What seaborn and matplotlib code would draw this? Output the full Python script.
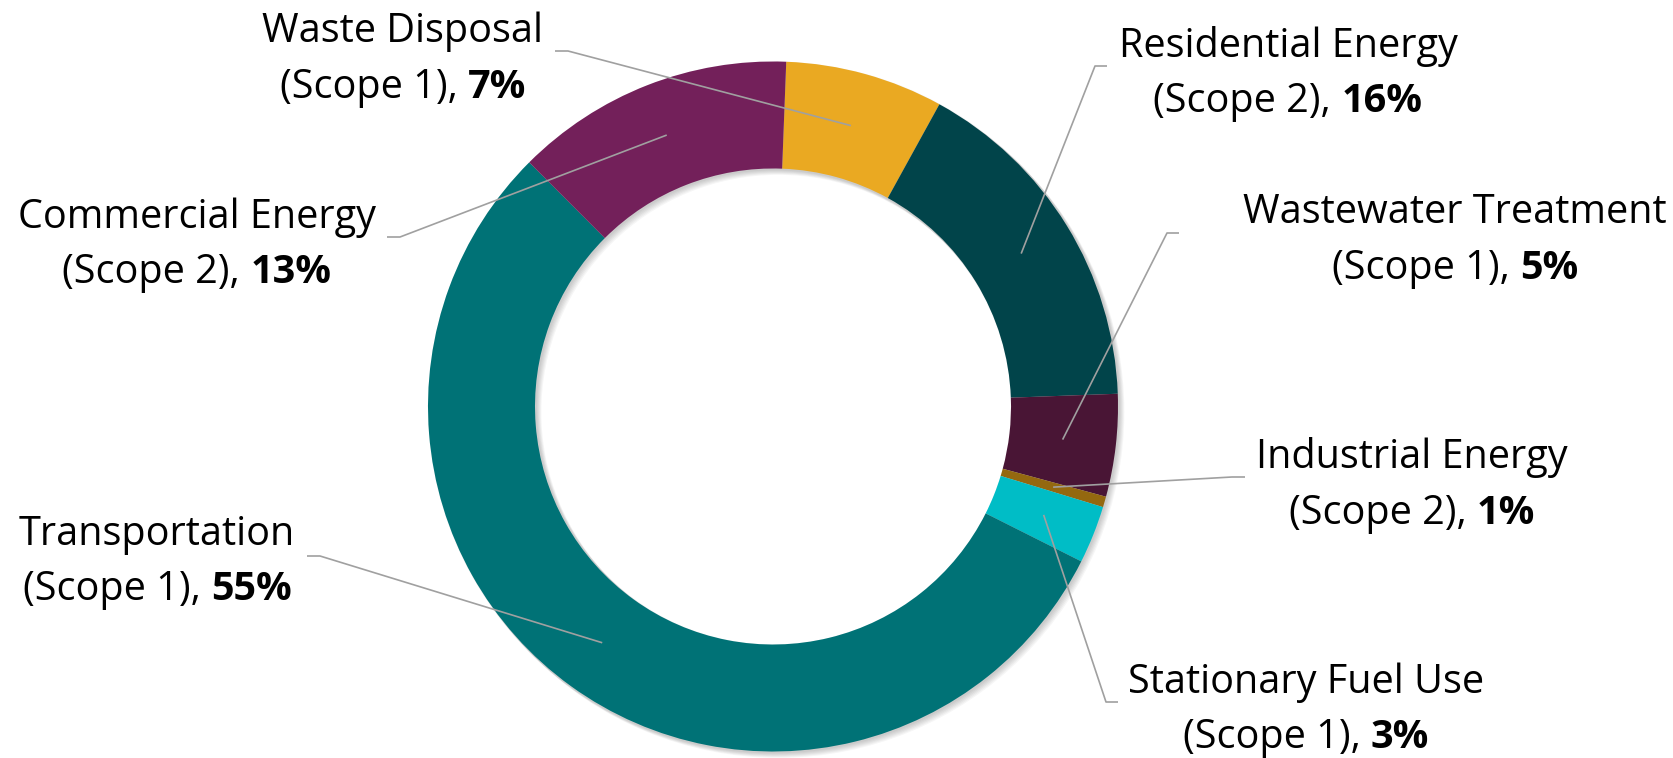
import matplotlib
matplotlib.use("Agg")
import matplotlib.pyplot as plt
import numpy as np
import seaborn as sns
from matplotlib.patches import Wedge

# emission sources, clockwise from the top
categories = ["Waste Disposal", "Residential Energy", "Wastewater Treatment",
              "Industrial Energy", "Stationary Fuel Use", "Transportation",
              "Commercial Energy"]
scopes = ["(Scope 1)", "(Scope 2)", "(Scope 1)", "(Scope 2)", "(Scope 1)",
          "(Scope 1)", "(Scope 2)"]
shares = [7.4, 16.4, 4.8, 0.5, 2.7, 55.1, 13.1]
pct_labels = ["7%", "16%", "5%", "1%", "3%", "55%", "13%"]
colors = ["#EAA922", "#01444A", "#491535", "#94680F", "#00BDC6", "#007276",
          "#73205A"]

W, H = 1673, 758
sns.set_theme(style="white")
plt.rcParams["font.family"] = ["Open Sans", "DejaVu Sans"]
FS = 28.5

fig = plt.figure(figsize=(W / 100, H / 100), dpi=100)
ax = fig.add_axes([0, 0, 1, 1])

cx, cy = 773, H - 406.5
R, ring = 345, 107

# soft drop shadow
for k in range(1, 7):
    ax.add_patch(Wedge((cx + k * 0.9, cy - k * 0.9), R + 1, 0, 360, width=ring + 2,
                       facecolor="black", alpha=0.035, lw=0, zorder=1))

wedges, _ = ax.pie(shares, colors=colors, startangle=87.8, counterclock=False,
                   radius=R, center=(cx, cy),
                   wedgeprops=dict(width=ring, linewidth=0, zorder=2))

ax.set_xlim(0, W)
ax.set_ylim(0, H)
ax.set_aspect("equal")
ax.axis("off")

# label layout (pixels from top): text centre x, baselines, leader end / elbow
text_x = [403, 1288, 1455, 1412, 1306, 157, 197]
base1 = [42, 57, 223, 468, 693, 545, 228]
base2 = [98, 112, 279, 524, 748, 600, 283]
line_end = [(555, 51), (1107, 66), (1179, 233), (1245, 477), (1118, 702),
            (307, 556), (387, 237)]
line_elbow = [568, 1095, 1167, 1232, 1106, 320, 400]

renderer = fig.canvas.get_renderer()
sp = ax.text(0, 0, "a a", fontsize=FS)
nsp = ax.text(0, 0, "aa", fontsize=FS)
space = sp.get_window_extent(renderer).width - nsp.get_window_extent(renderer).width
sp.remove()
nsp.remove()

rm = R - ring / 2
for i, w in enumerate(wedges):
    mid = np.deg2rad((w.theta1 + w.theta2) / 2)
    px, py = cx + rm * np.cos(mid), cy + rm * np.sin(mid)
    ex, ey = line_end[i]
    ax.plot([ex, line_elbow[i], px], [H - ey, H - ey, py], color="#A0A0A0",
            lw=1.2, solid_capstyle="butt", zorder=3)

    ax.text(text_x[i], H - base1[i], categories[i], ha="center", va="baseline",
            fontsize=FS, color="black")
    t1 = ax.text(0, H - base2[i], scopes[i] + ",", ha="left", va="baseline",
                 fontsize=FS, color="black")
    t2 = ax.text(0, H - base2[i], pct_labels[i], ha="left", va="baseline",
                 fontsize=FS, fontweight="bold", color="black")
    w1 = t1.get_window_extent(renderer).width
    w2 = t2.get_window_extent(renderer).width
    x0 = text_x[i] - (w1 + space + w2) / 2
    t1.set_x(x0)
    t2.set_x(x0 + w1 + space)

fig.savefig("out.png", dpi=100)
